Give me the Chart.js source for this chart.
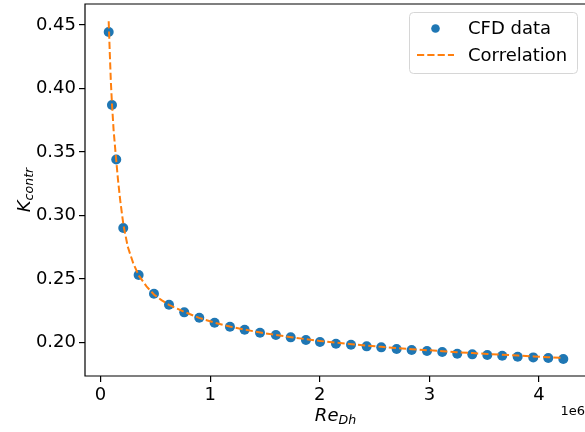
<!DOCTYPE html>
<html>
<head>
<meta charset="utf-8">
<script src="https://cdn.jsdelivr.net/npm/chart.js@4.4.0/dist/chart.umd.min.js"></script>
<style>
  html, body { margin: 0; padding: 0; background: #fff; }
  #wrap { width: 585px; height: 432px; }
</style>
</head>
<body>
<div id="wrap"><canvas id="chart" width="585" height="432"></canvas></div>
<script>
// CFD results: Reynolds number (hydraulic diameter) vs contraction loss coefficient
var reCfd = [75000, 105000, 144000, 208000, 348000, 488000, 625000, 764000, 901000,
  1041000, 1181000, 1315000, 1455000, 1600000, 1735000, 1874000, 2002000, 2148000,
  2285000, 2428000, 2561000, 2701000, 2838000, 2978000, 3117000, 3254000, 3391000,
  3528000, 3664000, 3805000, 3947000, 4084000, 4221000];
var kCfd = [0.4445, 0.387, 0.344, 0.290, 0.253, 0.2383, 0.2296, 0.2236, 0.2194,
  0.2154, 0.2123, 0.2099, 0.2075, 0.2057, 0.2039, 0.2018, 0.2002, 0.1989,
  0.1981, 0.1968, 0.1960, 0.1947, 0.1939, 0.1931, 0.1923, 0.1910, 0.1905,
  0.1900, 0.1894, 0.1886, 0.1881, 0.1876, 0.1868];

// fitted correlation curve
var reFit = [75000, 85000, 95000, 105000, 120000, 140000, 160000, 180000, 210000,
  250000, 300000, 350000, 420000, 490000, 560000, 625000, 700000, 764000, 900000,
  1040000, 1180000, 1320000, 1460000, 1600000, 1740000, 1870000, 2000000, 2150000,
  2290000, 2430000, 2560000, 2700000, 2840000, 2980000, 3120000, 3250000, 3390000,
  3530000, 3660000, 3810000, 3950000, 4080000, 4220000];
var kFit = [0.453, 0.428, 0.405, 0.388, 0.367, 0.347, 0.328, 0.312, 0.292,
  0.275, 0.262, 0.2525, 0.244, 0.2375, 0.233, 0.2295, 0.2265, 0.224, 0.2192,
  0.2155, 0.2124, 0.2099, 0.2077, 0.2057, 0.2040, 0.2025, 0.2011, 0.1997,
  0.1985, 0.1974, 0.1964, 0.1955, 0.1946, 0.1938, 0.1930, 0.1922, 0.1915,
  0.1908, 0.1902, 0.1895, 0.1889, 0.1883, 0.1877];

var xTicks = [0, 1, 2, 3, 4];
var yTicks = [0.20, 0.25, 0.30, 0.35, 0.40, 0.45];

var blue = '#1f77b4';
var orange = '#ff7f0e';
var FONT = 'DejaVu Sans';

function toPoints(xs, ys) {
  var pts = [];
  for (var i = 0; i < xs.length; i++) {
    pts.push({ x: xs[i], y: ys[i] });
  }
  return pts;
}

// fixed axis sizes, no extra padding for edge labels
function fixBox(scale, w, h) {
  if (w) scale.width = w;
  if (h) scale.height = h;
  scale.paddingLeft = 0;
  scale.paddingRight = 0;
  scale.paddingTop = 0;
  scale.paddingBottom = 0;
}

// spines, axis titles, offset text and legend box
var decor = {
  id: 'decor',
  afterDraw: function (chart) {
    var ctx = chart.ctx;
    var a = chart.chartArea;
    ctx.save();

    // frame (left, top, bottom)
    ctx.strokeStyle = '#000';
    ctx.lineWidth = 1.2;
    ctx.beginPath();
    ctx.moveTo(a.right + 2, a.top);
    ctx.lineTo(a.left, a.top);
    ctx.lineTo(a.left, a.bottom);
    ctx.lineTo(a.right + 2, a.bottom);
    ctx.stroke();

    // x title: Re_Dh
    ctx.fillStyle = '#000';
    ctx.textBaseline = 'alphabetic';
    ctx.textAlign = 'left';
    ctx.font = 'italic 18px "' + FONT + '"';
    var w1 = ctx.measureText('Re').width;
    ctx.font = 'italic 12.6px "' + FONT + '"';
    var w2 = ctx.measureText('Dh').width;
    var cx = (a.left + a.right + 1) / 2;
    var x0 = cx - (w1 + w2) / 2;
    ctx.font = 'italic 18px "' + FONT + '"';
    ctx.fillText('Re', x0, 421);
    ctx.font = 'italic 12.6px "' + FONT + '"';
    ctx.fillText('Dh', x0 + w1, 424);

    // y title: K_contr
    ctx.save();
    ctx.translate(30, (a.top + a.bottom) / 2);
    ctx.rotate(-Math.PI / 2);
    ctx.font = 'italic 18px "' + FONT + '"';
    var k1 = ctx.measureText('K').width;
    ctx.font = 'italic 12.6px "' + FONT + '"';
    var k2 = ctx.measureText('contr').width;
    var s0 = -(k1 + k2) / 2;
    ctx.font = 'italic 18px "' + FONT + '"';
    ctx.fillText('K', s0, 0);
    ctx.font = 'italic 12.6px "' + FONT + '"';
    ctx.fillText('contr', s0 + k1, 3);
    ctx.restore();

    // scale offset
    ctx.font = '13px "' + FONT + '"';
    ctx.textAlign = 'right';
    ctx.fillText('1e6', 585, 415);

    // legend
    var lx = 409.5, ly = 12.5, lw = 168, lh = 61;
    ctx.fillStyle = 'rgba(255,255,255,0.8)';
    ctx.strokeStyle = '#d6d6d6';
    ctx.lineWidth = 1;
    ctx.beginPath();
    ctx.roundRect(lx, ly, lw, lh, 4);
    ctx.fill();
    ctx.stroke();

    ctx.fillStyle = blue;
    ctx.beginPath();
    ctx.arc(435.5, 28.5, 4.3, 0, Math.PI * 2);
    ctx.fill();

    ctx.strokeStyle = orange;
    ctx.lineWidth = 2;
    ctx.setLineDash([7.2, 3.1]);
    ctx.beginPath();
    ctx.moveTo(417, 55);
    ctx.lineTo(454, 55);
    ctx.stroke();
    ctx.setLineDash([]);

    ctx.fillStyle = '#000';
    ctx.font = '18px "' + FONT + '"';
    ctx.textAlign = 'left';
    ctx.textBaseline = 'middle';
    ctx.fillText('CFD data', 468, 29);
    ctx.fillText('Correlation', 468, 56);

    ctx.restore();
  }
};

new Chart(document.getElementById('chart'), {
  type: 'scatter',
  data: {
    datasets: [{
      label: 'CFD data',
      data: toPoints(reCfd, kCfd),
      backgroundColor: blue,
      borderColor: blue,
      pointRadius: 5,
      pointBorderWidth: 0,
      order: 2
    }, {
      label: 'Correlation',
      data: toPoints(reFit, kFit),
      showLine: true,
      borderColor: orange,
      borderWidth: 2,
      borderDash: [7.2, 3.1],
      pointRadius: 0,
      fill: false,
      order: 1
    }]
  },
  options: {
    responsive: false,
    devicePixelRatio: 1,
    animation: false,
    layout: { autoPadding: false, padding: { top: 4, right: 0, left: 0, bottom: 0 } },
    plugins: {
      legend: { display: false },
      tooltip: { enabled: false }
    },
    scales: {
      x: {
        type: 'linear',
        min: -141000,
        max: 4419000,
        afterBuildTicks: function (scale) {
          scale.ticks = xTicks.map(function (v) { return { value: v * 1e6 }; });
        },
        afterFit: function (scale) { fixBox(scale, 0, 56); },
        border: { display: false },
        grid: { drawOnChartArea: false, drawTicks: true, tickLength: 6, color: '#000', lineWidth: 1.2 },
        ticks: {
          color: '#000',
          padding: 3,
          maxRotation: 0,
          font: { family: FONT, size: 18 },
          callback: function (v) { return String(v / 1e6); }
        }
      },
      y: {
        type: 'linear',
        min: 0.17344,
        max: 0.46655,
        afterBuildTicks: function (scale) {
          scale.ticks = yTicks.map(function (v) { return { value: v }; });
        },
        afterFit: function (scale) { fixBox(scale, 85, 0); },
        border: { display: false },
        grid: { drawOnChartArea: false, drawTicks: true, tickLength: 6, color: '#000', lineWidth: 1.2 },
        ticks: {
          color: '#000',
          padding: 3,
          font: { family: FONT, size: 18 },
          callback: function (v) { return v.toFixed(2); }
        }
      }
    }
  },
  plugins: [decor]
});
</script>
</body>
</html>
